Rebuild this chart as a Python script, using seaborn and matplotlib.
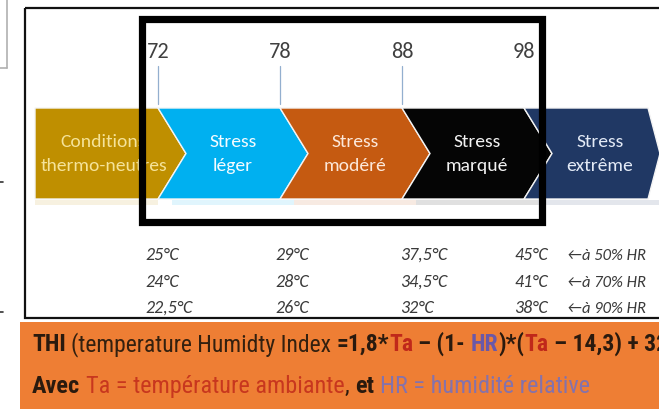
"""
THI stress scale infographic (chevrons + temperature table + formula band)
"""
import matplotlib
matplotlib.use('Agg')
from matplotlib import pyplot as plt
from matplotlib import font_manager
from matplotlib.patches import Polygon, Rectangle
import seaborn as sns

sns.set_theme(style="white")

# --- data ---
thi_thresholds = [72, 78, 88, 98]
stages = ['Conditions\nthermo-neutres', 'Stress\nléger', 'Stress\nmodéré',
          'Stress\nmarqué', 'Stress\nextrême']
stage_colors = ['#BF8F00', '#00B0F0', '#C55A11', '#050505', '#203864']
label_colors = ['#F5E39A', '#F4FBFF', '#FCE8DA', '#F2F2F2', '#E3EAF6']

temps_50 = ['25°C', '29°C', '37,5°C', '45°C']
temps_70 = ['24°C', '28°C', '34,5°C', '41°C']
temps_90 = ['22,5°C', '26°C', '32°C', '38°C']
hr_labels = ['←à 50% HR', '←à 70% HR', '←à 90% HR']

formula_runs = [('THI', '#2A1A0E', 'bold'),
                (' (temperature Humidty Index ', '#33200F', 'normal'),
                ('=1,8*', '#2A1A0E', 'bold'),
                ('Ta', '#C0281A', 'bold'),
                (' – (1- ', '#2A1A0E', 'bold'),
                ('HR', '#6A58A8', 'bold'),
                (')*(', '#2A1A0E', 'bold'),
                ('Ta', '#C0281A', 'bold'),
                (' – 14,3) + 32', '#2A1A0E', 'bold')]
legend_runs = [('Avec', '#2A1A0E', 'bold'),
               (' Ta = température ambiante', '#C8371E', 'normal'),
               (', ', '#2A1A0E', 'normal'),
               ('et', '#2A1A0E', 'bold'),
               (' HR = humidité relative', '#8472AC', 'normal')]

installed = {f.name for f in font_manager.fontManager.ttflist}


def pick(*names):
    for n in names:
        if n in installed:
            return n
    return 'DejaVu Sans'


CAL = pick('Carlito', 'Liberation Sans Narrow', 'Roboto Condensed',
           'DejaVu Sans Condensed', 'Liberation Sans')
NARROW = pick('Liberation Sans Narrow', 'Roboto Condensed',
              'DejaVu Sans Condensed', 'Liberation Sans')
plt.rcParams['font.family'] = [CAL, 'DejaVu Sans']

W, H = 659, 409
Y_TOP, Y_BOT = 108, 199
STEP, DEPTH = 122, 28
X0 = 158  # first boundary (THI 72)


def draw_runs(ax, x, y, runs, size, family):
    r = ax.figure.canvas.get_renderer()
    inv = ax.transData.inverted()

    def width(s, weight):
        t = ax.text(0, 0, s, fontsize=size, family=family, fontweight=weight)
        w = t.get_window_extent(renderer=r).width
        t.remove()
        return w

    for text, color, weight in runs:
        sp = width('n n', weight) - width('nn', weight)
        lead = len(text) - len(text.lstrip(' '))
        trail = len(text) - len(text.rstrip(' '))
        x_px = ax.transData.transform((x, y))[0] + lead * sp
        x = inv.transform((x_px, 0))[0]
        t = ax.text(x, y, text.strip(' '), color=color, fontweight=weight,
                    fontsize=size, family=family, ha='left', va='baseline',
                    zorder=6)
        bb = t.get_window_extent(renderer=r)
        x = inv.transform((bb.x1 + trail * sp, 0))[0]


def main():
    fig = plt.figure(figsize=(W / 100, H / 100), dpi=100)
    ax = fig.add_axes([0, 0, 1, 1])
    ax.set_xlim(0, W)
    ax.set_ylim(H, 0)
    ax.axis('off')

    mid = (Y_TOP + Y_BOT) / 2
    bounds = [X0 + i * STEP for i in range(len(thi_thresholds))]

    # chevrons
    lefts = [35] + bounds
    n = len(stages)
    for i, (lab, col, tcol) in enumerate(zip(stages, stage_colors, label_colors)):
        L = lefts[i]
        R = bounds[i] if i < len(bounds) else bounds[-1] + STEP + 2
        tip = DEPTH if i < n - 1 else 12
        if i == 0:
            pts = [(L, Y_TOP), (R, Y_TOP), (R + tip, mid), (R, Y_BOT), (L, Y_BOT)]
            cx = (L + R + DEPTH / 2) / 2
        else:
            pts = [(L, Y_TOP), (R, Y_TOP), (R + tip, mid), (R, Y_BOT),
                   (L, Y_BOT), (L + DEPTH, mid)]
            cx = (L + R) / 2 + DEPTH / 2
        ax.add_patch(Polygon(pts, closed=True, facecolor=col,
                             edgecolor='#F4F4F4', lw=1.0, zorder=2))
        ax.add_patch(Rectangle((L + (0 if i == 0 else DEPTH / 2), Y_BOT + 1),
                               R - L, 5, facecolor=col, alpha=0.12,
                               lw=0, zorder=1))
        l1, l2 = lab.split('\n')
        ax.text(cx, 147, l1, ha='center', va='baseline', color=tcol,
                fontsize=14, zorder=3)
        ax.text(cx, 171, l2, ha='center', va='baseline', color=tcol,
                fontsize=14, zorder=3)

    # THI thresholds above
    for k, (x, v) in enumerate(zip(bounds, thi_thresholds)):
        ax.text(x, 58, str(v), ha='center', va='baseline', color='#404040',
                fontsize=16, zorder=3)
        if k < 3:
            ax.plot([x, x], [66, 104], color='#93AFCF', lw=0.9, zorder=3)

    # temperature table
    col_x = [145, 275, 400, 548]
    col_ha = ['left', 'left', 'left', 'right']
    for yb, row, hr in zip([260, 287, 313], [temps_50, temps_70, temps_90], hr_labels):
        for x, ha, s in zip(col_x, col_ha, row):
            ax.text(x, yb, s, ha=ha, va='baseline', color='#3A3A3A',
                    fontsize=13, style='italic', zorder=3)
        ax.text(567, yb, hr, ha='left', va='baseline', color='#3A3A3A',
                fontsize=12, style='italic', family=[CAL, 'DejaVu Sans'],
                zorder=3)

    # frames
    ax.add_patch(Rectangle((25, 8), 660, 310, fill=False, edgecolor='#111111',
                           lw=1.6, zorder=4))
    ax.add_patch(Rectangle((141.5, 19), 400, 203, fill=False,
                           edgecolor='black', lw=5.2, zorder=5,
                           joinstyle='miter'))

    # small marks at the left edge
    ax.plot([6.5, 6.5], [0, 68], color='#B0B0B0', lw=1.2)
    ax.plot([0, 6.5], [68, 68], color='#B0B0B0', lw=1.2)
    ax.plot([0, 3], [182, 182], color='#333333', lw=1.2)
    ax.plot([0, 3], [312, 312], color='#333333', lw=1.2)

    # formula band
    ax.add_patch(Rectangle((20, 322), W, H - 322, facecolor='#EE7E34',
                           lw=0, zorder=1))
    draw_runs(ax, 32, 351, formula_runs, 17, [NARROW, 'DejaVu Sans'])
    draw_runs(ax, 32, 393, legend_runs, 17.5, [NARROW, 'DejaVu Sans'])

    fig.savefig('out.png', dpi=100)


if __name__ == '__main__':
    main()
